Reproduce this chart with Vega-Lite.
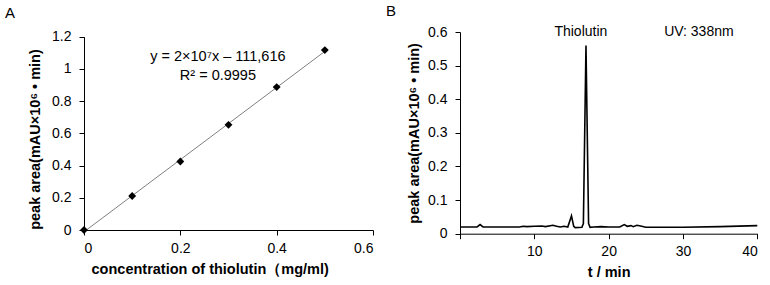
{
  "$schema": "https://vega.github.io/schema/vega-lite/v6.json",
  "padding": {"left": 5, "top": 4, "right": 0, "bottom": 0},
  "background": "white",
  "spacing": 12,
  "config": {
    "view": {"stroke": null},
    "font": "Liberation Sans",
    "axis": {
      "grid": false,
      "domainColor": "#000",
      "tickColor": "#000",
      "labelColor": "#000",
      "titleColor": "#000",
      "labelFont": "Liberation Sans",
      "labelFontSize": 14,
      "titleFont": "Liberation Sans",
      "titleFontSize": 14.5,
      "titleFontWeight": "bold",
      "tickSize": 5,
      "domainWidth": 1,
      "tickWidth": 1
    },
    "axisX": {"labelPadding": 6, "titlePadding": 7},
    "axisY": {"labelPadding": 8},
    "title": {"fontSize": 15, "fontWeight": "normal", "anchor": "start", "frame": "group", "color": "#000", "font": "Liberation Sans"}
  },
  "hconcat": [
    {
      "width": 289,
      "height": 198,
      "title": {"text": "A", "dx": -79, "offset": 9},
      "encoding": {
        "x": {
          "field": "conc", "type": "quantitative",
          "scale": {"domain": [0, 0.6], "nice": false, "zero": false},
          "axis": {"values": [0, 0.2, 0.4, 0.6], "format": "~g", "title": "concentration of thiolutin（mg/ml)", "titleX": 125.7}
        },
        "y": {
          "field": "area", "type": "quantitative",
          "scale": {"domain": [0, 1.2], "nice": false, "range": [198, 4.7]},
          "axis": {"values": [0, 0.2, 0.4, 0.6, 0.8, 1, 1.2], "format": "~g", "title": "peak area(mAU×10⁶ • min)", "titlePadding": 9, "titleY": 107}
        }
      },
      "layer": [
        {
          "data": {"values": [
            {"conc": 0, "area": 0},
            {"conc": 0.1, "area": 0.211},
            {"conc": 0.2, "area": 0.425},
            {"conc": 0.3, "area": 0.653},
            {"conc": 0.4, "area": 0.887},
            {"conc": 0.5, "area": 1.117}
          ]},
          "transform": [{"regression": "area", "on": "conc"}],
          "mark": {"type": "line", "color": "#808080", "strokeWidth": 1}
        },
        {
          "data": {"values": [
            {"conc": 0, "area": 0},
            {"conc": 0.1, "area": 0.211},
            {"conc": 0.2, "area": 0.425},
            {"conc": 0.3, "area": 0.653},
            {"conc": 0.4, "area": 0.887},
            {"conc": 0.5, "area": 1.117}
          ]},
          "mark": {"type": "point", "shape": "diamond", "filled": true, "color": "#000", "size": 62, "opacity": 1}
        },
        {
          "data": {"values": [
            {"conc": 0.278, "area": 1.074, "label": "y = 2×10⁷x – 111,616"},
            {"conc": 0.278, "area": 0.959, "label": "R² = 0.9995"}
          ]},
          "mark": {"type": "text", "fontSize": 14.5, "color": "#000", "align": "center", "baseline": "middle"},
          "encoding": {"text": {"field": "label"}}
        }
      ]
    },
    {
      "width": 297.3,
      "height": 201.7,
      "title": {"text": "B", "dx": -74, "offset": 6},
      "encoding": {
        "x": {
          "field": "t", "type": "quantitative",
          "scale": {"domain": [0, 40], "nice": false, "zero": false},
          "axis": {"values": [0, 10, 20, 30, 40], "labelExpr": "datum.value == 0 ? '' : datum.label", "title": "t / min"}
        },
        "y": {
          "field": "v", "type": "quantitative",
          "scale": {"domain": [0, 0.6], "nice": false},
          "axis": {"values": [0, 0.1, 0.2, 0.3, 0.4, 0.5, 0.6], "format": "~g", "title": "peak area(mAU×10⁶ • min)", "titlePadding": 6}
        }
      },
      "layer": [
        {
          "data": {"values": [
            {"t": 0, "v": 0.02},
            {"t": 2.3, "v": 0.02},
            {"t": 2.7, "v": 0.027},
            {"t": 3.1, "v": 0.02},
            {"t": 5, "v": 0.02},
            {"t": 8, "v": 0.02},
            {"t": 8.5, "v": 0.022},
            {"t": 9, "v": 0.021},
            {"t": 10, "v": 0.022},
            {"t": 11, "v": 0.023},
            {"t": 11.5, "v": 0.021},
            {"t": 12.5, "v": 0.025},
            {"t": 13, "v": 0.022},
            {"t": 13.5, "v": 0.02},
            {"t": 14, "v": 0.022},
            {"t": 14.5, "v": 0.02},
            {"t": 15.0, "v": 0.053},
            {"t": 15.3, "v": 0.022},
            {"t": 15.5, "v": 0.018},
            {"t": 16.4, "v": 0.019},
            {"t": 16.6, "v": 0.03},
            {"t": 16.95, "v": 0.56},
            {"t": 17.3, "v": 0.03},
            {"t": 17.5, "v": 0.019},
            {"t": 18, "v": 0.02},
            {"t": 19, "v": 0.021},
            {"t": 20, "v": 0.02},
            {"t": 21.5, "v": 0.02},
            {"t": 22.1, "v": 0.027},
            {"t": 22.5, "v": 0.022},
            {"t": 23, "v": 0.024},
            {"t": 23.3, "v": 0.021},
            {"t": 23.8, "v": 0.025},
            {"t": 24.3, "v": 0.023},
            {"t": 25, "v": 0.019},
            {"t": 30, "v": 0.019},
            {"t": 35, "v": 0.021},
            {"t": 40, "v": 0.024}
          ]},
          "mark": {"type": "line", "color": "#000", "strokeWidth": 1.6}
        },
        {
          "data": {"values": [
            {"t": 16.26, "v": 0.6, "label": "Thiolutin"},
            {"t": 32.14, "v": 0.6, "label": "UV: 338nm"}
          ]},
          "mark": {"type": "text", "fontSize": 14, "color": "#000", "align": "center", "baseline": "middle"},
          "encoding": {"text": {"field": "label"}}
        }
      ]
    }
  ]
}
